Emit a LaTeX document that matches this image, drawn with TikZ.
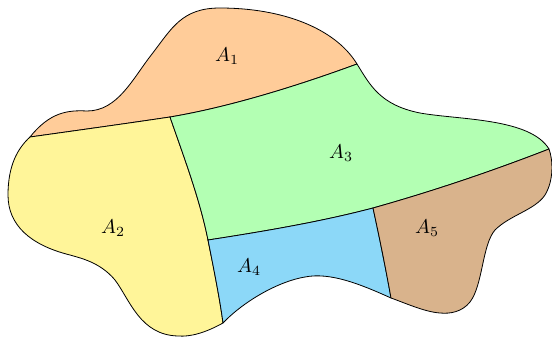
\documentclass[tikz,border=0pt]{standalone}
\usepackage{amsmath}
\usepackage{tikz}

\definecolor{regionA}{HTML}{FFCC99}
\definecolor{regionB}{HTML}{FFF599}
\definecolor{regionC}{HTML}{B3FFB3}
\definecolor{regionD}{HTML}{8CD8F8}
\definecolor{regionE}{HTML}{D9B38C}

\begin{document}
\begin{tikzpicture}[
    x=0.5pt, y=-0.5pt,
    region/.style={draw=black, line width=0.4pt, line join=round},
    lbl/.style={font=\normalsize}
]
\useasboundingbox (0,0) rectangle (552,337);

% Junctions of the boundaries
\coordinate (jwest) at (30,137);
\coordinate (jtop) at (170,117);
\coordinate (jnorth) at (357,64);
\coordinate (jeast) at (549,149);
\coordinate (jmid) at (373,208);
\coordinate (jcross) at (208,240);
\coordinate (jsouth) at (223,323);
\coordinate (jbot) at (391,298);

% Region A1
\path[region, fill=regionA] (jwest) .. controls (50,112) and (68,110) .. (87,111)
    .. controls (118,111) and (133,78) .. (152,54)
    .. controls (172,28) and (182,8) .. (220,8)
    .. controls (282,8) and (335,28) .. (jnorth)
    .. controls (300,85) and (230,107) .. (jtop)
    .. controls (130,123) and (80,130) .. (jwest) -- cycle;

% Region A2
\path[region, fill=regionB] (jwest) .. controls (80,130) and (130,123) .. (jtop)
    .. controls (185,160) and (200,200) .. (jcross)
    .. controls (214,270) and (220,300) .. (jsouth)
    .. controls (205,333) and (190,337) .. (178,336)
    .. controls (140,335) and (130,300) .. (115,280)
    .. controls (100,262) and (80,258) .. (70,255)
    .. controls (30,245) and (8,225) .. (8,195)
    .. controls (8,165) and (18,148) .. (jwest) -- cycle;

% Region A3
\path[region, fill=regionC] (jtop) .. controls (230,107) and (300,85) .. (jnorth)
    .. controls (370,85) and (380,105) .. (420,113)
    .. controls (460,120) and (530,118) .. (jeast)
    .. controls (490,172) and (430,192) .. (jmid)
    .. controls (320,222) and (260,232) .. (jcross)
    .. controls (200,200) and (185,160) .. (jtop) -- cycle;

% Region A4
\path[region, fill=regionD] (jcross) .. controls (260,232) and (320,222) .. (jmid)
    .. controls (380,240) and (386,270) .. (jbot)
    .. controls (360,284) and (330,272) .. (305,277)
    .. controls (280,281) and (245,300) .. (jsouth)
    .. controls (220,300) and (214,270) .. (jcross) -- cycle;

% Region A5
\path[region, fill=regionE] (jmid) .. controls (430,192) and (490,172) .. (jeast)
    .. controls (553,160) and (554,180) .. (545,195)
    .. controls (535,210) and (510,215) .. (495,230)
    .. controls (482,245) and (483,285) .. (470,302)
    .. controls (462,312) and (450,314) .. (440,313)
    .. controls (425,312) and (405,303) .. (jbot)
    .. controls (386,270) and (380,240) .. (jmid) -- cycle;

% Labels
\node[lbl] (lblA) at (227,56) {$A_1$};
\node[lbl] (lblB) at (113,228) {$A_2$};
\node[lbl] (lblC) at (341,153) {$A_3$};
\node[lbl] (lblD) at (249,267) {$A_4$};
\node[lbl] (lblE) at (427,228) {$A_5$};

\end{tikzpicture}
\end{document}
